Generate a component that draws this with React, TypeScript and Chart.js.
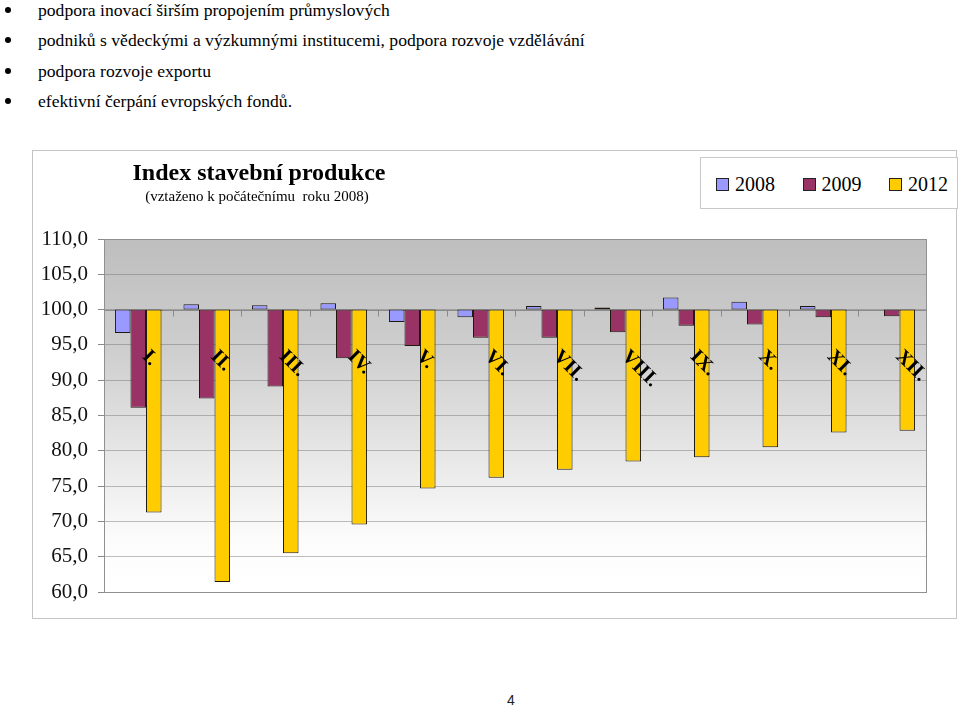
import React, { useEffect, useRef } from "react";
import { Chart, registerables } from "chart.js";
Chart.register(...registerables);

const months = ["I.", "II.", "III.", "IV.", "V.", "VI.", "VII.", "VIII.", "IX.", "X.", "XI.", "XII."];
const values2008 = [96.7, 100.75, 100.6, 100.9, 98.25, 98.9, 100.5, 100.3, 101.7, 101.1, 100.5, 100.0];
const values2009 = [86.1, 87.4, 89.1, 93.1, 94.85, 96.0, 96.0, 96.8, 97.7, 97.9, 98.9, 99.05];
const values2012 = [71.25, 61.4, 65.5, 69.55, 74.65, 76.2, 77.3, 78.5, 79.1, 80.5, 82.6, 82.85];
const seriesNames = ["2008", "2009", "2012"];
const seriesColors = ["#9999FF", "#993366", "#FFCC00"];
const baseline = 100;
const yMin = 60;
const yMax = 110;
const yStep = 5;

const bulletLines = [
  "podpora inovací širším propojením průmyslových",
  "podniků s vědeckými a výzkumnými institucemi, podpora rozvoje vzdělávání",
  "podpora rozvoje exportu",
  "efektivní čerpání evropských fondů.",
];
const chartTitle = "Index stavební produkce";
const chartSubtitle = "(vztaženo k počátečnímu  roku 2008)";
const pageNumber = "4";

const SERIF = '"Liberation Serif", "Times New Roman", serif';

const plotPlugin = {
  id: "plotDecor",
  beforeDraw(chart: any) {
    const { ctx, chartArea: a } = chart;
    ctx.save();
    const g = ctx.createLinearGradient(0, a.top, 0, a.bottom);
    g.addColorStop(0, "#bebebe");
    g.addColorStop(0.3, "#cdcdcd");
    g.addColorStop(0.6, "#e6e6e6");
    g.addColorStop(0.85, "#fcfcfc");
    g.addColorStop(1, "#ffffff");
    ctx.fillStyle = g;
    ctx.fillRect(a.left, a.top, a.right - a.left, a.bottom - a.top);
    ctx.restore();
  },
  beforeDatasetsDraw(chart: any) {
    const { ctx, chartArea: a, scales } = chart;
    const x = scales.x;
    const y = scales.y;
    const y100 = Math.round(y.getPixelForValue(baseline)) + 0.5;
    ctx.save();
    ctx.strokeStyle = "#8a8a8a";
    ctx.lineWidth = 1;
    ctx.beginPath();
    ctx.moveTo(a.left, y100);
    ctx.lineTo(a.right, y100);
    for (let i = 1; i < months.length; i++) {
      const px = Math.round(x.getPixelForValue(i - 0.5)) + 0.5;
      ctx.moveTo(px, y100);
      ctx.lineTo(px, y100 + 6);
    }
    ctx.stroke();
    ctx.restore();
  },
  afterDatasetsDraw(chart: any) {
    const { ctx, chartArea: a, scales } = chart;
    const x = scales.x;
    const y = scales.y;
    ctx.save();
    ctx.strokeStyle = "#909090";
    ctx.lineWidth = 1;
    ctx.strokeRect(Math.round(a.left) + 0.5, Math.round(a.top) + 0.5, Math.round(a.right - a.left), Math.round(a.bottom - a.top));
    ctx.fillStyle = "#000";
    ctx.font = `bold 20px ${SERIF}`;
    ctx.textAlign = "left";
    ctx.textBaseline = "middle";
    const y100 = y.getPixelForValue(baseline);
    months.forEach((m, i) => {
      const px = x.getPixelForValue(i) + 7;
      ctx.save();
      ctx.translate(px, y100 + 44);
      ctx.rotate(Math.PI / 4);
      ctx.fillText(m, 0, 0);
      ctx.restore();
    });
    ctx.restore();
  },
  afterDraw(chart: any) {
    const { ctx, width, height } = chart;
    ctx.save();
    ctx.strokeStyle = "#c4c4c4";
    ctx.lineWidth = 1;
    ctx.strokeRect(0.5, 0.5, width - 2, height - 1);
    ctx.restore();
  },
};

function ChartCanvas() {
  const ref = useRef<HTMLCanvasElement | null>(null);
  useEffect(() => {
    if (!ref.current) return;
    const all = [values2008, values2009, values2012];
    const chart = new Chart(ref.current, {
      type: "bar",
      data: {
        labels: months,
        datasets: all.map((vals, k) => ({
          label: seriesNames[k],
          data: vals.map((v) => [baseline, v]),
          backgroundColor: seriesColors[k],
          borderColor: "#1e1a10",
          borderWidth: 1,
          borderSkipped: false,
          barPercentage: 1,
          categoryPercentage: 0.68,
        })) as any,
      },
      options: {
        animation: false,
        responsive: false,
        layout: { padding: { left: 10, top: 89, right: 32, bottom: 27 } },
        plugins: {
          legend: { display: false },
          title: { display: false },
          tooltip: { enabled: false },
        },
        scales: {
          x: { display: false },
          y: {
            min: yMin,
            max: yMax,
            afterFit: (s: any) => {
              s.width = 62;
            },
            ticks: {
              stepSize: yStep,
              padding: 10,
              color: "#111",
              font: { family: SERIF, size: 21 },
              callback: (v: any) => Number(v).toFixed(1).replace(".", ","),
            },
            grid: {
              color: "rgba(110,110,110,0.45)",
              tickColor: "#8a8a8a",
              tickLength: 6,
            },
            border: { display: false },
          },
        },
      } as any,
      plugins: [plotPlugin],
    });
    return () => chart.destroy();
  }, []);
  return <canvas ref={ref} width={926} height={469} style={{ position: "absolute", left: 32, top: 150 }} />;
}

export default function App() {
  return (
    <div style={{ position: "absolute", left: 0, top: 0, width: 959, height: 707, background: "#fff", fontFamily: SERIF, color: "#000", overflow: "hidden" }}>
      {bulletLines.map((t, i) => (
        <div key={i} style={{ position: "absolute", left: 0, top: i * 30.3, height: 20, width: 950, fontSize: 17.6, lineHeight: "20px" }}>
          <span style={{ position: "absolute", left: 5, top: 7, width: 6, height: 6, borderRadius: 3, background: "#000" }} />
          <span style={{ position: "absolute", left: 38, whiteSpace: "pre" }}>{t}</span>
        </div>
      ))}
      <ChartCanvas />
      <div style={{ position: "absolute", left: 109, width: 300, top: 160, textAlign: "center", fontSize: 24, lineHeight: "24px", fontWeight: "bold", whiteSpace: "pre" }}>
        {chartTitle}
      </div>
      <div style={{ position: "absolute", left: 107, width: 300, top: 188, textAlign: "center", fontSize: 15, lineHeight: "16px", whiteSpace: "pre" }}>
        {chartSubtitle}
      </div>
      <div style={{ position: "absolute", left: 700, top: 157, width: 258, height: 52, boxSizing: "border-box", border: "1px solid #c8c8c8", background: "#fff" }}>
        {seriesNames.map((n, k) => (
          <div key={n} style={{ position: "absolute", left: 15 + k * 86.5, top: 14, height: 24, display: "flex", alignItems: "center" }}>
            <span style={{ display: "inline-block", width: 13, height: 13, boxSizing: "border-box", border: "1px solid #222", background: seriesColors[k], marginRight: 6 }} />
            <span style={{ fontSize: 20, lineHeight: "24px" }}>{n}</span>
          </div>
        ))}
      </div>
      <div style={{ position: "absolute", left: 461, width: 100, top: 692, textAlign: "center", fontFamily: '"Liberation Sans", Arial, sans-serif', fontSize: 14, lineHeight: "16px", color: "#222" }}>
        {pageNumber}
      </div>
    </div>
  );
}
